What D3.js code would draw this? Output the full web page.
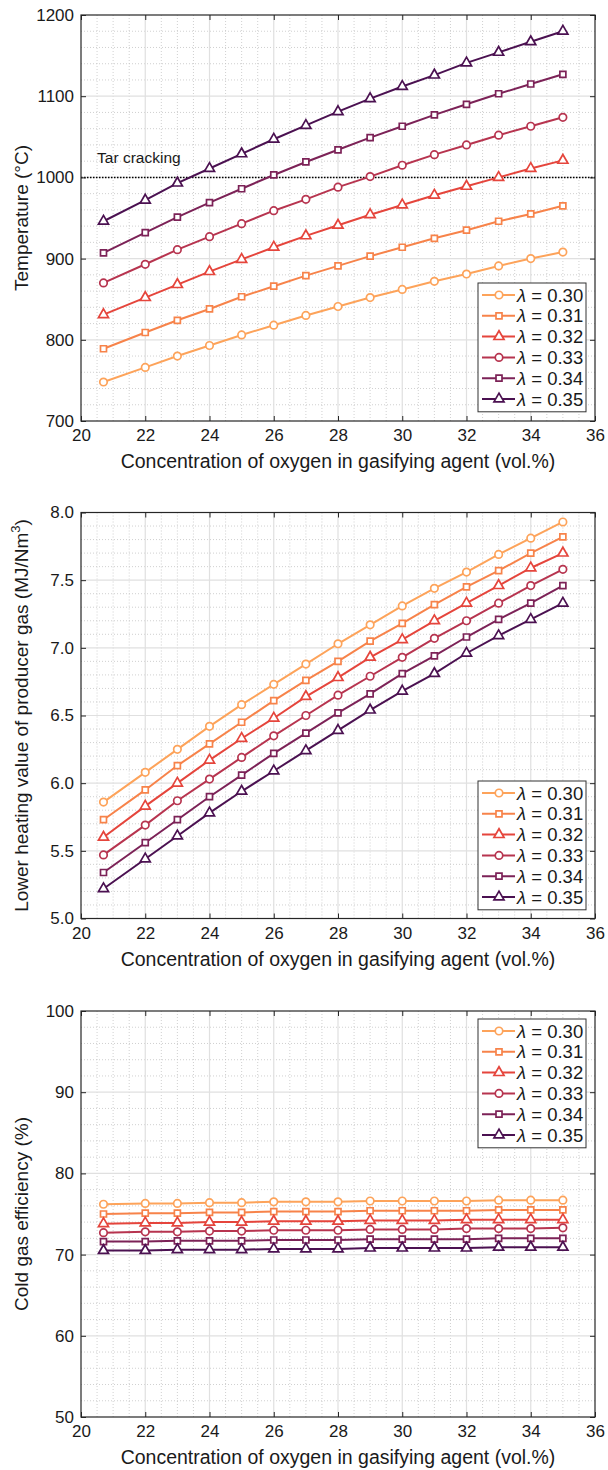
<!DOCTYPE html>
<html>
<head>
<meta charset="utf-8">
<script src="https://cdn.jsdelivr.net/npm/d3@7"></script>
<style>
  html, body { margin: 0; background: #fff; }
  svg text { font-family: "Liberation Sans", Arial, sans-serif; fill: #1a1a1a; }
</style>
</head>
<body>
<script>
// oxygen concentration in gasifying agent (vol.%)
var oxygen = [20.7, 22, 23, 24, 25, 26, 27, 28, 29, 30, 31, 32, 33, 34, 35];
var lambdas = ['0.30', '0.31', '0.32', '0.33', '0.34', '0.35'];
var colors = ['#fda35a', '#f7834a', '#e5453c', '#b7344f', '#7c2257', '#4b1151'];
var shapes = ['circle', 'square', 'triangle', 'circle', 'square', 'triangle'];

// temperature (°C)
var temp030 = [748, 766, 780, 793, 806, 818, 830, 841, 852, 862, 872, 881, 891, 900, 908];
var temp031 = [789, 809, 824, 838, 853, 866, 879, 891, 903, 914, 925, 935, 946, 955, 965];
var temp032 = [831, 852, 868, 884, 899, 914, 928, 941, 954, 966, 978, 989, 1000, 1011, 1021];
var temp033 = [870, 893, 911, 927, 943, 959, 973, 988, 1001, 1015, 1028, 1040, 1052, 1063, 1074];
var temp034 = [907, 932, 951, 969, 986, 1003, 1019, 1034, 1049, 1063, 1077, 1090, 1103, 1115, 1127];
var temp035 = [946, 972, 993, 1011, 1029, 1047, 1064, 1081, 1097, 1112, 1126, 1141, 1154, 1167, 1180];

// lower heating value (MJ/Nm3)
var lhv030 = [5.86, 6.08, 6.25, 6.42, 6.58, 6.73, 6.88, 7.03, 7.17, 7.31, 7.44, 7.56, 7.69, 7.81, 7.93];
var lhv031 = [5.73, 5.95, 6.13, 6.29, 6.45, 6.61, 6.76, 6.90, 7.05, 7.18, 7.32, 7.45, 7.57, 7.70, 7.82];
var lhv032 = [5.60, 5.83, 6.00, 6.17, 6.33, 6.48, 6.64, 6.78, 6.93, 7.06, 7.20, 7.33, 7.46, 7.59, 7.70];
var lhv033 = [5.47, 5.69, 5.87, 6.03, 6.19, 6.35, 6.50, 6.65, 6.79, 6.93, 7.07, 7.20, 7.33, 7.46, 7.58];
var lhv034 = [5.34, 5.56, 5.73, 5.90, 6.06, 6.22, 6.37, 6.52, 6.66, 6.81, 6.94, 7.08, 7.21, 7.33, 7.46];
var lhv035 = [5.22, 5.44, 5.61, 5.78, 5.94, 6.09, 6.24, 6.39, 6.54, 6.68, 6.81, 6.96, 7.09, 7.21, 7.33];

// cold gas efficiency (%)
var cge030 = [76.2, 76.3, 76.3, 76.4, 76.4, 76.5, 76.5, 76.5, 76.6, 76.6, 76.6, 76.6, 76.7, 76.7, 76.7];
var cge031 = [75.0, 75.1, 75.1, 75.2, 75.2, 75.3, 75.3, 75.3, 75.4, 75.4, 75.4, 75.4, 75.5, 75.5, 75.5];
var cge032 = [73.8, 73.9, 73.9, 74.0, 74.0, 74.1, 74.1, 74.1, 74.2, 74.2, 74.2, 74.3, 74.3, 74.3, 74.3];
var cge033 = [72.7, 72.8, 72.8, 72.9, 72.9, 73.0, 73.0, 73.0, 73.1, 73.1, 73.1, 73.2, 73.2, 73.2, 73.3];
var cge034 = [71.6, 71.6, 71.7, 71.7, 71.7, 71.8, 71.8, 71.8, 71.9, 71.9, 71.9, 71.9, 72.0, 72.0, 72.0];
var cge035 = [70.5, 70.5, 70.6, 70.6, 70.6, 70.7, 70.7, 70.7, 70.8, 70.8, 70.8, 70.8, 70.9, 70.9, 70.9];

var xTicks = [20, 22, 24, 26, 28, 30, 32, 34, 36];
var xLabel = 'Concentration of oxygen in gasifying agent (vol.%)';

var width = 608, height = 1470;
var left = 81, right = 595;

var svg = d3.select('body').append('svg')
  .attr('width', width)
  .attr('height', height);

var x = d3.scaleLinear().domain([20, 36]).range([left, right]);

var panels = [
  { top: 15, bottom: 421, domain: [700, 1200], ticks: [700, 800, 900, 1000, 1100, 1200], minor: 20, fmt: d3.format('d'),
    series: [temp030, temp031, temp032, temp033, temp034, temp035], legendTop: 283, title: 'Temperature (°C)' },
  { top: 512.5, bottom: 918.5, domain: [5, 8], ticks: [5, 5.5, 6, 6.5, 7, 7.5, 8], minor: 0.1, fmt: d3.format('.1f'),
    series: [lhv030, lhv031, lhv032, lhv033, lhv034, lhv035], legendTop: 781, title: 'lhv' },
  { top: 1011, bottom: 1417, domain: [50, 100], ticks: [50, 60, 70, 80, 90, 100], minor: 2, fmt: d3.format('d'),
    series: [cge030, cge031, cge032, cge033, cge034, cge035], legendTop: 1019, title: 'Cold gas efficiency (%)' }
];

function symbolPath(shape) {
  if (shape === 'circle') return d3.symbol().type(d3.symbolCircle).size(44)();
  if (shape === 'square') return d3.symbol().type(d3.symbolSquare).size(36)();
  return d3.symbol().type(d3.symbolTriangle).size(44)();
}

panels.forEach(function (p, pi) {
  var y = d3.scaleLinear().domain(p.domain).range([p.bottom, p.top]);
  var g = svg.append('g');

  // minor grid
  var xMinor = d3.range(20, 36.001, 0.5).filter(function (v) { return v % 2 !== 0; });
  var yMinor = d3.range(p.domain[0], p.domain[1] + 1e-9, p.minor)
    .filter(function (v) { return !p.ticks.some(function (t) { return Math.abs(t - v) < 1e-6; }); });

  g.selectAll('.xminor').data(xMinor).enter().append('line')
    .attr('x1', function (d) { return x(d); }).attr('x2', function (d) { return x(d); })
    .attr('y1', p.top).attr('y2', p.bottom)
    .attr('stroke', '#c4c4c4').attr('stroke-width', 0.8).attr('stroke-dasharray', '1,2');
  g.selectAll('.yminor').data(yMinor).enter().append('line')
    .attr('x1', left).attr('x2', right)
    .attr('y1', function (d) { return y(d); }).attr('y2', function (d) { return y(d); })
    .attr('stroke', '#c4c4c4').attr('stroke-width', 0.8).attr('stroke-dasharray', '1,2');

  // major grid
  g.selectAll('.xmajor').data(xTicks.slice(1, -1)).enter().append('line')
    .attr('x1', function (d) { return x(d); }).attr('x2', function (d) { return x(d); })
    .attr('y1', p.top).attr('y2', p.bottom)
    .attr('stroke', '#e0e0e0').attr('stroke-width', 1.2);
  g.selectAll('.ymajor').data(p.ticks.slice(1, -1)).enter().append('line')
    .attr('x1', left).attr('x2', right)
    .attr('y1', function (d) { return y(d); }).attr('y2', function (d) { return y(d); })
    .attr('stroke', '#e0e0e0').attr('stroke-width', 1.2);

  // tar cracking threshold
  if (pi === 0) {
    g.append('line')
      .attr('x1', left).attr('x2', right)
      .attr('y1', y(1000)).attr('y2', y(1000))
      .attr('stroke', '#000').attr('stroke-width', 1.5).attr('stroke-dasharray', '1.5,1.5');
    g.append('text')
      .attr('x', x(20.5)).attr('y', y(1000) - 14)
      .attr('font-size', 15.5)
      .text('Tar cracking');
  }

  // axes (ticks inward, box on all sides)
  g.append('g').attr('transform', 'translate(0,' + p.bottom + ')')
    .call(d3.axisBottom(x).tickValues(xTicks).tickSize(-5).tickPadding(8).tickFormat(d3.format('d')))
    .call(function (a) { a.select('.domain').remove(); });
  g.append('g').attr('transform', 'translate(0,' + p.top + ')')
    .call(d3.axisTop(x).tickValues(xTicks).tickSize(-5).tickFormat(''))
    .call(function (a) { a.select('.domain').remove(); });
  g.append('g').attr('transform', 'translate(' + left + ',0)')
    .call(d3.axisLeft(y).tickValues(p.ticks).tickSize(-5).tickPadding(7).tickFormat(p.fmt))
    .call(function (a) { a.select('.domain').remove(); });
  g.append('g').attr('transform', 'translate(' + right + ',0)')
    .call(d3.axisRight(y).tickValues(p.ticks).tickSize(-5).tickFormat(''))
    .call(function (a) { a.select('.domain').remove(); });
  g.selectAll('.tick line').attr('stroke', '#262626');
  g.selectAll('.tick text').attr('font-size', 17).attr('fill', '#1a1a1a')
    .attr('font-family', '"Liberation Sans", Arial, sans-serif');

  g.append('rect')
    .attr('x', left).attr('y', p.top)
    .attr('width', right - left).attr('height', p.bottom - p.top)
    .attr('fill', 'none').attr('stroke', '#262626').attr('stroke-width', 1.2);

  // series
  var line = d3.line().x(function (d, i) { return x(oxygen[i]); }).y(function (d) { return y(d); });
  p.series.forEach(function (s, si) {
    g.append('path').datum(s)
      .attr('d', line)
      .attr('fill', 'none').attr('stroke', colors[si]).attr('stroke-width', 2);
    g.selectAll('.m' + si).data(s).enter().append('path')
      .attr('transform', function (d, i) { return 'translate(' + x(oxygen[i]) + ',' + y(d) + ')'; })
      .attr('d', symbolPath(shapes[si]))
      .attr('fill', '#fff').attr('stroke', colors[si]).attr('stroke-width', 1.7);
  });

  // legend
  var lx = 478, lw = 108, rowH = 20.8;
  var lg = g.append('g').attr('transform', 'translate(' + lx + ',' + p.legendTop + ')');
  lg.append('rect')
    .attr('width', lw).attr('height', rowH * 6 + 4)
    .attr('fill', '#fff').attr('stroke', '#333').attr('stroke-width', 1);
  lambdas.forEach(function (l, li) {
    var cy = 12 + li * rowH;
    lg.append('line').attr('x1', 4).attr('x2', 37).attr('y1', cy).attr('y2', cy)
      .attr('stroke', colors[li]).attr('stroke-width', 2);
    lg.append('path').attr('transform', 'translate(21,' + cy + ')')
      .attr('d', symbolPath(shapes[li]))
      .attr('fill', '#fff').attr('stroke', colors[li]).attr('stroke-width', 1.7);
    var t = lg.append('text').attr('x', 39).attr('y', cy + 6.5).attr('font-size', 18.5);
    t.append('tspan').attr('font-style', 'italic').text('λ');
    t.append('tspan').text(' = ' + l);
  });

  // axis titles
  g.append('text')
    .attr('x', (left + right) / 2).attr('y', p.bottom + 47)
    .attr('text-anchor', 'middle').attr('font-size', 19.5)
    .text(xLabel);

  var yt = g.append('text')
    .attr('transform', 'translate(28,' + (p.top + p.bottom) / 2 + ') rotate(-90)')
    .attr('text-anchor', 'middle').attr('font-size', 19);
  if (p.title === 'lhv') {
    yt.append('tspan').text('Lower heating value of producer gas (MJ/Nm');
    yt.append('tspan').attr('font-size', 13).attr('dy', -8).text('3');
    yt.append('tspan').attr('dy', 8).text(')');
  } else {
    yt.text(p.title);
  }
});
</script>
</body>
</html>
